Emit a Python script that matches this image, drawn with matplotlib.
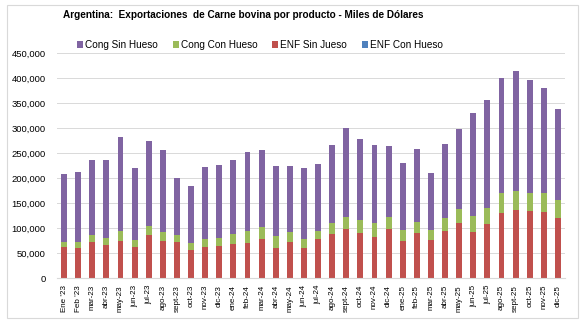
import matplotlib.pyplot as plt
from matplotlib.patches import Rectangle
import numpy as np

months = ["Ene '23", "Feb '23", "mar-23", "abr-23", "may-23", "jun-23", "jul-23", "ago-23",
          "sept-23", "oct-23", "nov-23", "dic-23", "ene-24", "feb-24", "mar-24", "abr-24",
          "may-24", "jun-24", "jul-24", "ago-24", "sept-24", "oct-24", "nov-24", "dic-24",
          "ene-25", "feb-25", "mar-25", "abr-25", "may-25", "jun-25", "jul-25", "ago-25",
          "sept-25", "oct-25", "nov-25", "dic-25"]

# (thousands of USD)
enf_con = [800] * 36
enf_sin = [61000, 60000, 71000, 65000, 73000, 61000, 85000, 73000, 71000, 55000, 61000, 63000,
           67000, 69000, 77000, 60000, 71000, 59000, 78000, 87000, 97000, 89000, 81000, 97000,
           73000, 90000, 75000, 94000, 110000, 91000, 108000, 129000, 135000, 133000, 131000, 119000]
con_top = [73000, 73000, 87000, 80000, 95000, 77000, 105000, 93000, 86000, 71000, 78000, 80000,
           89000, 95000, 103000, 85000, 93000, 79000, 95000, 110000, 123000, 117000, 110000, 122000,
           97000, 113000, 97000, 120000, 138000, 125000, 141000, 171000, 175000, 171000, 171000, 157000]
total = [209000, 213000, 237000, 237000, 283000, 220000, 275000, 257000, 201000, 185000, 223000, 226000,
         237000, 253000, 257000, 225000, 225000, 220000, 228000, 266000, 300000, 279000, 267000, 264000,
         231000, 259000, 211000, 269000, 298000, 330000, 356000, 401000, 415000, 397000, 381000, 338000]

enf_con = np.array(enf_con)
enf_sin = np.array(enf_sin)
cong_con = np.array(con_top) - enf_sin - enf_con
cong_sin = np.array(total) - np.array(con_top)

plt.rcParams['font.family'] = ['Liberation Sans', 'DejaVu Sans']

fig = plt.figure(figsize=(5.86, 3.31), dpi=100)
fig.patches.append(Rectangle((7 / 586, 13 / 331), 571 / 586, 313 / 331, transform=fig.transFigure,
                             fill=False, edgecolor='#d9d9d9', linewidth=0.8))
ax = fig.add_axes([57 / 586, 53 / 331, 508 / 586, 225 / 331])

x = np.arange(len(months))
w = 0.42
b1 = ax.bar(x, enf_con, w, color='#4F81BD', label='ENF Con Hueso')
b2 = ax.bar(x, enf_sin, w, bottom=enf_con, color='#C0504D', label='ENF Sin Jueso')
b3 = ax.bar(x, cong_con, w, bottom=enf_con + enf_sin, color='#9BBB59', label='Cong Con Hueso')
b4 = ax.bar(x, cong_sin, w, bottom=enf_con + enf_sin + cong_con, color='#8064A2', label='Cong Sin Hueso')

ax.set_xlim(-0.5, len(months) - 0.5)
ax.set_ylim(0, 450000)
ax.set_yticks(np.arange(0, 450001, 50000))
ax.set_yticklabels([f"{v:,}" for v in range(0, 450001, 50000)], fontsize=6.8)
ax.tick_params(axis='y', length=0, pad=8)
ax.set_xticks(x)
ax.set_xticklabels(months, rotation=90, fontsize=5.8)
ax.tick_params(axis='x', length=0, pad=5)
ax.grid(axis='y', color='#d9d9d9', linewidth=0.7)
ax.set_axisbelow(True)
for s in ['top', 'right', 'left']:
    ax.spines[s].set_visible(False)
ax.spines['bottom'].set_color('#d9d9d9')

fig.text(243 / 586, 1 - 15 / 331, "Argentina:  Exportaciones  de Carne bovina por producto - Miles de Dólares",
         ha='center', va='center', fontsize=7.2, fontweight='bold')

fig.legend([b4, b3, b2, b1], ['Cong Sin Hueso', 'Cong Con Hueso', 'ENF Sin Jueso', 'ENF Con Hueso'],
           loc='center', bbox_to_anchor=(260 / 586, 1 - 45 / 331), ncol=4, frameon=False,
           fontsize=7.2, handlelength=0.6, handleheight=0.6, handletextpad=0.2, columnspacing=1.5)

fig.savefig('out.png', dpi=100)
